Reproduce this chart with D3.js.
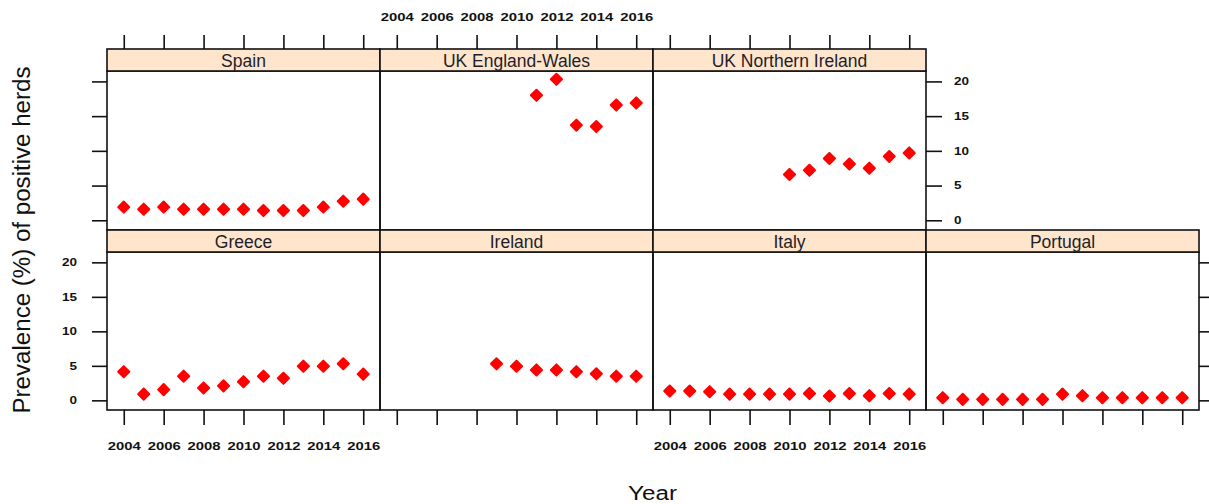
<!DOCTYPE html>
<html><head><meta charset="utf-8">
<script src="https://cdn.jsdelivr.net/npm/d3@7"></script>
<style>
body{margin:0;background:#fff}
svg{display:block;font-family:"Liberation Sans",Arial,sans-serif}
</style>
</head><body>
<svg id="chart" width="1209" height="504"></svg>
<script>
// ---- data ----
const panelNames = ["Spain","UK England-Wales","UK Northern Ireland","Greece","Ireland","Italy","Portugal"];
const yearsSpain = [2004,2005,2006,2007,2008,2009,2010,2011,2012,2013,2014,2015,2016];
const valuesSpain = [1.9,1.6,1.9,1.6,1.6,1.6,1.6,1.4,1.4,1.4,1.9,2.75,3.05];
const yearsUKEW = [2011,2012,2013,2014,2015,2016];
const valuesUKEW = [18.0,20.3,13.7,13.5,16.6,16.9];
const yearsUKNI = [2010,2011,2012,2013,2014,2015,2016];
const valuesUKNI = [6.6,7.2,8.9,8.1,7.5,9.2,9.7];
const yearsGreece = [2004,2005,2006,2007,2008,2009,2010,2011,2012,2013,2014,2015,2016];
const valuesGreece = [4.15,0.9,1.55,3.5,1.8,2.1,2.7,3.5,3.2,4.95,4.95,5.3,3.8];
const yearsIreland = [2009,2010,2011,2012,2013,2014,2015,2016];
const valuesIreland = [5.3,4.95,4.4,4.4,4.15,3.85,3.5,3.5];
const yearsItaly = [2004,2005,2006,2007,2008,2009,2010,2011,2012,2013,2014,2015,2016];
const valuesItaly = [1.35,1.35,1.25,0.9,0.9,0.9,0.9,1.0,0.62,1.0,0.67,1.0,0.9];
const yearsPortugal = [2004,2005,2006,2007,2008,2009,2010,2011,2012,2013,2014,2015,2016];
const valuesPortugal = [0.38,0.14,0.14,0.14,0.14,0.14,0.9,0.67,0.38,0.38,0.38,0.38,0.38];
const xTickValues = [2004,2006,2008,2010,2012,2014,2016];
const yTickValues = [0,5,10,15,20];
const xTitle = "Year";
const yTitle = "Prevalence (%) of positive herds";

const seriesYears = [yearsSpain,yearsUKEW,yearsUKNI,yearsGreece,yearsIreland,yearsItaly,yearsPortugal];
const seriesValues = [valuesSpain,valuesUKEW,valuesUKNI,valuesGreece,valuesIreland,valuesItaly,valuesPortugal];

// ---- layout ----
const svg = d3.select("#chart");
const colX = [107,380,653,926];
const pw = 273;
const rows = [
  {stripTop:49, plotTop:71, plotBottom:230},
  {stripTop:230, plotTop:252, plotBottom:410}
];
const stripH = 22;
const panelPos = [[0,0],[0,1],[0,2],[1,0],[1,1],[1,2],[1,3]]; // [row, col]

const x = d3.scaleLinear().domain([2003.16,2016.84]).range([0,pw]);
const yScales = rows.map(r => d3.scaleLinear().domain([-1.4,21.5]).range([r.plotBottom - r.plotTop, 0]));

const strokeCol = "#111";

// panels
panelNames.forEach((name,i) => {
  const [ri,ci] = panelPos[i];
  const r = rows[ri];
  const y = yScales[ri];
  const g = svg.append("g").attr("transform",`translate(${colX[ci]},${r.plotTop})`);
  const data = seriesYears[i].map((yr,k)=>({yr, v: seriesValues[i][k]}));
  g.selectAll("path.pt").data(data).enter().append("path")
    .attr("class","pt")
    .attr("d", d3.symbol().type(d3.symbolSquare).size(62))
    .attr("transform", d => `translate(${x(d.yr)},${y(d.v)}) rotate(45)`)
    .attr("fill","#ff0000").attr("stroke","#ff0000").attr("stroke-width",2).attr("stroke-linejoin","round");
  g.append("rect").attr("x",0).attr("y",0).attr("width",pw).attr("height",r.plotBottom-r.plotTop)
    .attr("fill","none").attr("stroke",strokeCol).attr("stroke-width",1.6);
  const s = svg.append("g").attr("transform",`translate(${colX[ci]},${r.stripTop})`);
  s.append("rect").attr("width",pw).attr("height",stripH).attr("fill","#ffe5cc")
    .attr("stroke",strokeCol).attr("stroke-width",1.6);
  s.append("text").attr("x",pw/2).attr("y",stripH-4.5).attr("text-anchor","middle")
    .attr("font-size","17.5px").attr("fill","#1e1e2a").text(name);
});

function styleAxis(g, lenFn){
  g.select(".domain").remove();
  g.selectAll(".tick line").attr("stroke",strokeCol).attr("stroke-width",1.6);
  g.selectAll(".tick text").attr("font-size","10.5px").attr("font-weight","bold").attr("fill","#111")
    .attr("font-family","'Liberation Sans',Arial,sans-serif")
    .each(function(){
      const t = d3.select(this).text();
      if (t.length) d3.select(this).attr("textLength", lenFn(t)).attr("lengthAdjust","spacingAndGlyphs");
    });
}
const yearLen = t => 33;
const numLen = t => 7.5*t.length;

[0,1,2].forEach(ci => {
  const ax = d3.axisTop(x).tickValues(xTickValues).tickSize(14).tickPadding(14)
    .tickFormat(ci===1 ? d3.format("d") : () => "");
  const g = svg.append("g").attr("transform",`translate(${colX[ci]},${rows[0].stripTop})`).call(ax);
  styleAxis(g, yearLen);
});
[0,1,2,3].forEach(ci => {
  const ax = d3.axisBottom(x).tickValues(xTickValues).tickSize(15).tickPadding(18)
    .tickFormat((ci===0||ci===2) ? d3.format("d") : () => "");
  const g = svg.append("g").attr("transform",`translate(${colX[ci]},${rows[1].plotBottom})`).call(ax);
  styleAxis(g, yearLen);
});
[0,1].forEach(ri => {
  const ax = d3.axisLeft(yScales[ri]).tickValues(yTickValues).tickSize(15).tickPadding(15)
    .tickFormat(ri===1 ? d3.format("d") : () => "");
  const g = svg.append("g").attr("transform",`translate(${colX[0]},${rows[ri].plotTop})`).call(ax);
  styleAxis(g, numLen);
});
[[0,colX[2]+pw,true],[1,colX[3]+pw,false]].forEach(([ri,xx,lab]) => {
  const ax = d3.axisRight(yScales[ri]).tickValues(yTickValues).tickSize(16).tickPadding(12)
    .tickFormat(lab ? d3.format("d") : () => "");
  const g = svg.append("g").attr("transform",`translate(${xx},${rows[ri].plotTop})`).call(ax);
  styleAxis(g, numLen);
});

svg.append("text").attr("x",652.5).attr("y",500).attr("text-anchor","middle")
  .attr("font-size","20px").attr("fill","#111").attr("textLength",49).attr("lengthAdjust","spacingAndGlyphs")
  .text(xTitle);
svg.append("text").attr("transform","translate(30,240) rotate(-90)").attr("text-anchor","middle")
  .attr("font-size","23px").attr("fill","#111").attr("textLength",347).attr("lengthAdjust","spacingAndGlyphs")
  .text(yTitle);
</script>
</body></html>
